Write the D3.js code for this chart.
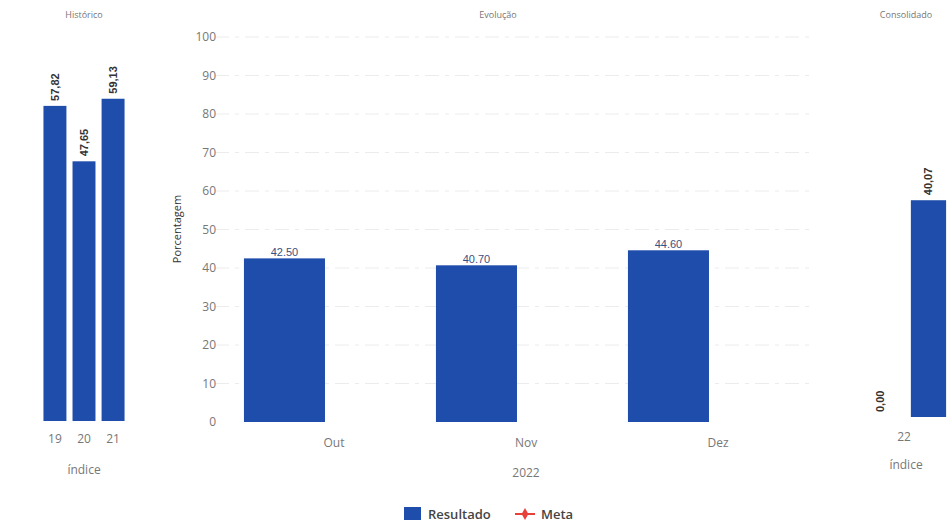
<!DOCTYPE html>
<html><head><meta charset="utf-8">
<script src="https://cdn.jsdelivr.net/npm/d3@7"></script>
<style>
html,body{margin:0;padding:0;background:#fff;}
svg{display:block;font-family:"Open Sans","Noto Sans",sans-serif;}
</style></head>
<body>
<svg id="c" width="952" height="529"></svg>
<script>
// ---- data ----
const histCategories = ["19","20","21"];
const histValues = [57.82, 47.65, 59.13];
const histLabels = ["57,82","47,65","59,13"];

const months = ["Out","Nov","Dez"];
const resultado = [42.50, 40.70, 44.60];
const meta = [null, null, null];
const yTicks = [0,10,20,30,40,50,60,70,80,90,100];

const consCategories = ["22"];
const consMeta = [0.00];
const consResultado = [40.07];
const consMetaLabels = ["0,00"];
const consResultadoLabels = ["40,07"];

const seriesNames = ["Resultado","Meta"];
const BLUE = "#1f4dab";
const RED = "#e8413a";

const svg = d3.select("#c");

// ---------- Left: Histórico ----------
const xL = d3.scaleBand().domain(histCategories).range([42,126]).paddingInner(0.21).paddingOuter(0.05);
const yL = d3.scaleLinear().domain([0,65]).range([421, 421-65*5.45]);
const gL = svg.append("g");
gL.append("text").attr("x",84).attr("y",18).attr("text-anchor","middle")
  .attr("font-size",9).attr("fill","#777").text("Histórico");
gL.selectAll("rect").data(histValues).join("rect")
  .attr("x",(d,i)=>xL(histCategories[i])).attr("width",xL.bandwidth())
  .attr("y",d=>yL(d)).attr("height",d=>yL(0)-yL(d)).attr("fill",BLUE);
gL.selectAll("text.v").data(histValues).join("text").attr("class","v")
  .attr("transform",(d,i)=>`translate(${xL(histCategories[i])+xL.bandwidth()/2+4},${yL(d)-5}) rotate(-90)`)
  .attr("font-family","'Liberation Sans',Arial,sans-serif").attr("font-weight","bold")
  .attr("font-size",11).attr("fill","#333").text((d,i)=>histLabels[i]);
const axL = gL.append("g").attr("transform","translate(0,426)")
  .call(d3.axisBottom(xL).tickSize(0).tickPadding(8));
axL.select(".domain").remove();
axL.selectAll("text").attr("font-size",12).attr("fill","#777").attr("font-family","'Open Sans',sans-serif");
gL.append("text").attr("x",84).attr("y",474).attr("text-anchor","middle")
  .attr("font-size",12).attr("fill","#777").text("índice");

// ---------- Middle: Evolução ----------
const xM = d3.scaleBand().domain(months).range([238,814]);
const xSub = d3.scaleBand().domain(seriesNames).range([0,xM.bandwidth()]).paddingInner(0.182).paddingOuter(0.06);
const yM = d3.scaleLinear().domain([0,100]).range([422,37]);
const gM = svg.append("g");
gM.append("text").attr("x",498).attr("y",18).attr("text-anchor","middle")
  .attr("font-size",9).attr("fill","#777").text("Evolução");
// gridlines
gM.append("g").selectAll("line").data(yTicks.slice(1)).join("line")
  .attr("x1",215).attr("x2",815).attr("y1",d=>yM(d)).attr("y2",d=>yM(d))
  .attr("stroke","#ececec").attr("stroke-width",1).attr("stroke-dasharray","14,6,4,6");
const ayM = gM.append("g").attr("transform","translate(218,0)")
  .call(d3.axisLeft(yM).tickValues(yTicks).tickSize(0).tickPadding(2));
ayM.select(".domain").remove();
ayM.selectAll("text").attr("font-size",12).attr("fill","#777").attr("font-family","'Open Sans',sans-serif");
gM.append("text").attr("transform","translate(181,229) rotate(-90)").attr("text-anchor","middle")
  .attr("font-size",11).attr("fill","#333").text("Porcentagem");
gM.selectAll("rect.r").data(resultado).join("rect").attr("class","r")
  .attr("x",(d,i)=>xM(months[i])+xSub("Resultado")).attr("width",xSub.bandwidth())
  .attr("y",d=>yM(d)).attr("height",d=>yM(0)-yM(d)).attr("fill",BLUE);
gM.selectAll("text.v").data(resultado).join("text").attr("class","v")
  .attr("x",(d,i)=>xM(months[i])+xSub("Resultado")+xSub.bandwidth()/2).attr("y",d=>yM(d)-2)
  .attr("text-anchor","middle").attr("font-size",11).attr("fill","#3d4f80")
  .attr("font-family","'Liberation Sans',Arial,sans-serif")
  .text(d=>d.toFixed(2));
const axM = gM.append("g").attr("transform","translate(0,430)")
  .call(d3.axisBottom(xM).tickSize(0).tickPadding(8));
axM.select(".domain").remove();
axM.selectAll("text").attr("font-size",12).attr("fill","#777").attr("font-family","'Open Sans',sans-serif");
gM.append("text").attr("x",526).attr("y",477).attr("text-anchor","middle")
  .attr("font-size",12).attr("fill","#777").text("2022");

// ---------- Right: Consolidado ----------
const xR = d3.scaleBand().domain(consCategories).range([857,951]);
const xRSub = d3.scaleBand().domain(["Meta","Resultado"]).range([0,xR.bandwidth()]).paddingInner(0.28).paddingOuter(0.1);
const yR = d3.scaleLinear().domain([0,65]).range([417, 417-65*5.41]);
const gR = svg.append("g");
gR.append("text").attr("x",906).attr("y",18).attr("text-anchor","middle")
  .attr("font-size",9).attr("fill","#777").text("Consolidado");
const consSeries = [
  {name:"Meta", values:consMeta, labels:consMetaLabels},
  {name:"Resultado", values:consResultado, labels:consResultadoLabels}
];
consSeries.forEach(s=>{
  s.values.forEach((v,i)=>{
    const x = xR(consCategories[i]) + xRSub(s.name);
    gR.append("rect").attr("x",x).attr("width",xRSub.bandwidth())
      .attr("y",yR(v)).attr("height",yR(0)-yR(v)).attr("fill",BLUE);
    gR.append("text")
      .attr("transform",`translate(${x+xRSub.bandwidth()/2+4},${yR(v)-5}) rotate(-90)`)
      .attr("font-family","'Liberation Sans',Arial,sans-serif").attr("font-weight","bold")
      .attr("font-size",11).attr("fill","#333").text(s.labels[i]);
  });
});
const axR = gR.append("g").attr("transform","translate(0,425)")
  .call(d3.axisBottom(xR).tickSize(0).tickPadding(7));
axR.select(".domain").remove();
axR.selectAll("text").attr("font-size",12).attr("fill","#777").attr("font-family","'Open Sans',sans-serif");
gR.append("text").attr("x",906).attr("y",469).attr("text-anchor","middle")
  .attr("font-size",12).attr("fill","#777").text("índice");

// ---------- Legend ----------
const lg = svg.append("g");
lg.append("rect").attr("x",404).attr("y",507).attr("width",17).attr("height",13).attr("fill",BLUE);
lg.append("text").attr("x",428).attr("y",519).attr("font-size",13).attr("font-weight",600)
  .attr("fill","#444").text(seriesNames[0]);
lg.append("line").attr("x1",515).attr("x2",535).attr("y1",514).attr("y2",514)
  .attr("stroke",RED).attr("stroke-width",2);
lg.append("path").attr("d",d3.symbol(d3.symbolDiamond,40)()).attr("transform","translate(525,514)").attr("fill",RED);
lg.append("text").attr("x",541).attr("y",519).attr("font-size",13).attr("font-weight",600)
  .attr("fill","#444").text(seriesNames[1]);
</script>
</body></html>
